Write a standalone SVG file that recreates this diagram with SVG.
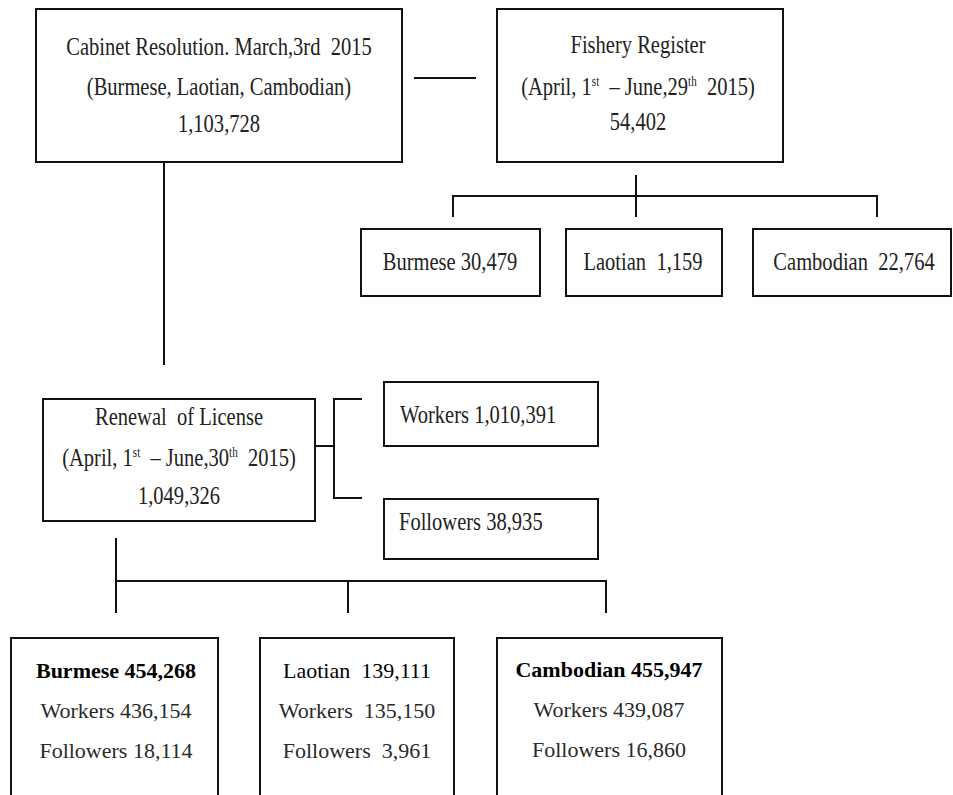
<svg xmlns="http://www.w3.org/2000/svg" width="953" height="795" viewBox="0 0 953 795">
<style>
.box{fill:#fff;stroke:#111;stroke-width:2}
.ln{fill:none;stroke:#111;stroke-width:2}
.t{font-family:'Liberation Serif','DejaVu Serif',serif;font-size:26px;font-weight:normal;fill:#222;text-anchor:middle}
.tl{font-family:'Liberation Serif','DejaVu Serif',serif;font-size:26px;font-weight:normal;fill:#222;text-anchor:start}
.sup{font-size:14px}
.b{font-family:'Liberation Serif','DejaVu Serif',serif;font-size:22px;font-weight:normal;fill:#2a2a2a;text-anchor:middle}
.bb{font-weight:bold;fill:#000}
</style>
<rect width="953" height="795" fill="#fff"/>
<g id="connectors">
<path class="ln" d="M414 78H476"/>
<path class="ln" d="M164 162V365"/>
<path class="ln" d="M636 175V217M453 217V196H877V217"/>
<path class="ln" d="M315 446H334M362 399H334V498H362"/>
<path class="ln" d="M116 538V613M116 581H606V613M348 581V613"/>
</g>
<g id="cabinet">
<rect class="box" x="36" y="9" width="366" height="153"/>
<text class="t" xml:space="preserve" transform="translate(219,55) scale(0.79,1)">Cabinet Resolution. March,3rd  2015</text>
<text class="t" transform="translate(219,95) scale(0.79,1)">(Burmese, Laotian, Cambodian)</text>
<text class="t" transform="translate(219,132) scale(0.79,1)">1,103,728</text>
</g>
<g id="fishery">
<rect class="box" x="497" y="9" width="286" height="153"/>
<text class="t" transform="translate(638,53) scale(0.79,1)">Fishery Register</text>
<text class="t" xml:space="preserve" transform="translate(638,95) scale(0.79,1)">(April, 1<tspan class="sup" dy="-9">st</tspan><tspan dy="9">  – June,29</tspan><tspan class="sup" dy="-9">th</tspan><tspan dy="9">  2015)</tspan></text>
<text class="t" transform="translate(638,130) scale(0.79,1)">54,402</text>
</g>
<g id="fish-burmese">
<rect class="box" x="361" y="229" width="179" height="67"/>
<text class="t" transform="translate(450,270) scale(0.79,1)">Burmese 30,479</text>
</g>
<g id="fish-laotian">
<rect class="box" x="566" y="229" width="156" height="67"/>
<text class="t" xml:space="preserve" transform="translate(643,270) scale(0.79,1)">Laotian  1,159</text>
</g>
<g id="fish-cambodian">
<rect class="box" x="753" y="229" width="198" height="67"/>
<text class="t" xml:space="preserve" transform="translate(854,270) scale(0.79,1)">Cambodian  22,764</text>
</g>
<g id="renewal">
<rect class="box" x="43" y="399" width="272" height="122"/>
<text class="t" xml:space="preserve" transform="translate(179,425) scale(0.79,1)">Renewal  of License</text>
<text class="t" xml:space="preserve" transform="translate(179,466) scale(0.79,1)">(April, 1<tspan class="sup" dy="-9">st</tspan><tspan dy="9">  – June,30</tspan><tspan class="sup" dy="-9">th</tspan><tspan dy="9">  2015)</tspan></text>
<text class="t" transform="translate(179,504) scale(0.79,1)">1,049,326</text>
</g>
<g id="workers">
<rect class="box" x="384" y="382" width="214" height="64"/>
<text class="tl" transform="translate(400,423) scale(0.79,1)">Workers 1,010,391</text>
</g>
<g id="followers">
<rect class="box" x="384" y="499" width="214" height="60"/>
<text class="tl" transform="translate(399,530) scale(0.79,1)">Followers 38,935</text>
</g>
<g id="burmese">
<rect class="box" x="11" y="638" width="207" height="170"/>
<text class="b bb" x="116" y="678">Burmese 454,268</text>
<text class="b" x="116" y="718">Workers 436,154</text>
<text class="b" x="116" y="758">Followers 18,114</text>
</g>
<g id="laotian">
<rect class="box" x="260" y="638" width="194" height="170"/>
<text class="b" x="357" y="678" style="fill:#000" xml:space="preserve">Laotian  139,111</text>
<text class="b" x="357" y="718" xml:space="preserve">Workers  135,150</text>
<text class="b" x="357" y="758" xml:space="preserve">Followers  3,961</text>
</g>
<g id="cambodian">
<rect class="box" x="497" y="638" width="225" height="170"/>
<text class="b bb" x="609" y="677">Cambodian 455,947</text>
<text class="b" x="609" y="717">Workers 439,087</text>
<text class="b" x="609" y="757">Followers 16,860</text>
</g>
</svg>
